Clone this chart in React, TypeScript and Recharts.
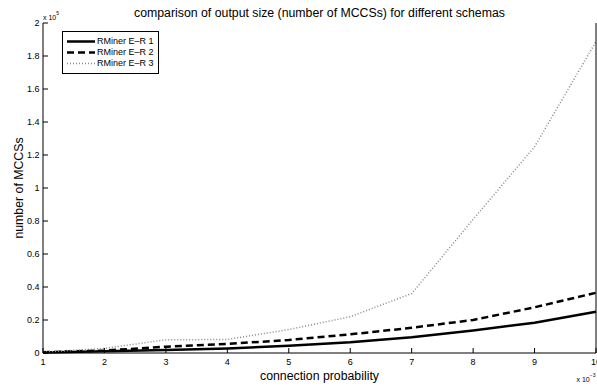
import { LineChart, Line, XAxis, YAxis, Legend } from "recharts";

const probability = [0.001, 0.002, 0.003, 0.004, 0.005, 0.006, 0.007, 0.008, 0.009, 0.01];
const rminer1 = [300, 1000, 1800, 2800, 4400, 6500, 9500, 13700, 18400, 25000];
const rminer2 = [500, 1500, 3800, 5500, 7900, 11300, 15300, 20000, 27700, 36500];
const rminer3 = [500, 2800, 8000, 8200, 14200, 22000, 36000, 81000, 125000, 188700];

const xTicks = probability;
const yTicks = [0, 20000, 40000, 60000, 80000, 100000, 120000, 140000, 160000, 180000, 200000];

const data = probability.map((p, i) => ({
  p,
  er1: rminer1[i],
  er2: rminer2[i],
  er3: rminer3[i],
}));

const series = [
  { key: "er1", name: "RMiner E\u2013R 1", stroke: "#000", width: 2.5, dash: undefined },
  { key: "er2", name: "RMiner E\u2013R 2", stroke: "#000", width: 2.5, dash: "7 4" },
  { key: "er3", name: "RMiner E\u2013R 3", stroke: "#888", width: 1.5, dash: "1 2" },
];

const font = "'Liberation Sans', Arial, Helvetica, sans-serif";
const tickStyle = { fontSize: 9, fill: "#000", fontFamily: font };
const noTick = () => <g />;

function LegendBox() {
  return (
    <div
      style={{
        width: 97,
        height: 43,
        boxSizing: "border-box",
        border: "1px solid #000",
        background: "#fff",
        padding: "4px 0 0 4px",
        fontFamily: font,
        fontSize: 9,
        color: "#000",
      }}
    >
      {series.map((s) => (
        <div key={s.key} style={{ display: "flex", alignItems: "center", height: 11, lineHeight: "11px" }}>
          <svg width={28} height={11}>
            <line x1={0} y1={5.5} x2={28} y2={5.5} stroke={s.stroke} strokeWidth={s.width} strokeDasharray={s.dash} />
          </svg>
          <span style={{ marginLeft: 2, whiteSpace: "nowrap" }}>{s.name}</span>
        </div>
      ))}
    </div>
  );
}

export default function App() {
  return (
    <div style={{ position: "absolute", left: 0, top: 0, width: 597, height: 387, background: "#fff" }}>
      <LineChart width={597} height={387} data={data} margin={{ top: 23, right: 0, bottom: 0, left: 0 }}>
        <XAxis
          dataKey="p"
          type="number"
          domain={[0.001, 0.01]}
          ticks={xTicks}
          interval={0}
          tickFormatter={(v: number) => String(Math.round(v * 1000))}
          tick={tickStyle}
          tickSize={-5}
          tickMargin={10.6}
          height={34}
          axisLine={{ stroke: "#000" }}
          tickLine={{ stroke: "#000" }}
          label={(props: any) => {
            const vb = props.viewBox;
            return (
              <text x={vb.x + vb.width / 2} y={vb.y + 26.5} textAnchor="middle" fontSize={12.3} fontFamily={font} fill="#000">
                connection probability
              </text>
            );
          }}
        />
        <XAxis
          xAxisId="top"
          orientation="top"
          dataKey="p"
          type="number"
          domain={[0.001, 0.01]}
          ticks={xTicks}
          interval={0}
          tick={noTick}
          tickSize={-5}
          height={0}
          axisLine={{ stroke: "#000" }}
          tickLine={{ stroke: "#000" }}
        />
        <YAxis
          type="number"
          domain={[0, 200000]}
          ticks={yTicks}
          interval={0}
          tickFormatter={(v: number) => String(Math.round(v / 1000) / 100)}
          tick={tickStyle}
          tickSize={-5}
          tickMargin={8.5}
          width={43}
          axisLine={{ stroke: "#000" }}
          tickLine={{ stroke: "#000" }}
          label={(props: any) => {
            const vb = props.viewBox;
            const cx = vb.x + 22.5;
            const cy = vb.y + vb.height / 2;
            return (
              <text x={cx} y={cy} transform={`rotate(-90 ${cx} ${cy})`} textAnchor="middle" fontSize={12.3} fontFamily={font} fill="#000">
                number of MCCSs
              </text>
            );
          }}
        />
        <YAxis
          yAxisId="right"
          orientation="right"
          type="number"
          domain={[0, 200000]}
          ticks={yTicks}
          interval={0}
          tick={noTick}
          tickSize={-5}
          width={1}
          axisLine={{ stroke: "#000" }}
          tickLine={{ stroke: "#000" }}
        />
        <Legend
          layout="vertical"
          align="center"
          verticalAlign="middle"
          content={() => <LegendBox />}
          wrapperStyle={{ position: "absolute", left: 62, top: 31, width: 97, height: 43 }}
        />
        {series.map((s) => (
          <Line
            key={s.key}
            type="linear"
            dataKey={s.key}
            name={s.name}
            stroke={s.stroke}
            strokeWidth={s.width}
            strokeDasharray={s.dash}
            dot={false}
            activeDot={false}
            isAnimationActive={false}
          />
        ))}
      </LineChart>
      <svg
        width={597}
        height={387}
        style={{ position: "absolute", left: 0, top: 0, pointerEvents: "none" }}
      >
        <text x={319.5} y={16.5} textAnchor="middle" fontSize={12.3} fontFamily={font} fill="#000">
          comparison of output size (number of MCCSs) for different schemas
        </text>
        <text x={43} y={20} fontSize={7} fontFamily={font} fill="#000">
          x 10<tspan dy={-5} fontSize={5}>5</tspan>
        </text>
        <text x={576.5} y={381.5} fontSize={7} fontFamily={font} fill="#000">
          x 10<tspan dy={-5} fontSize={5}>{"\u22123"}</tspan>
        </text>
      </svg>
    </div>
  );
}
